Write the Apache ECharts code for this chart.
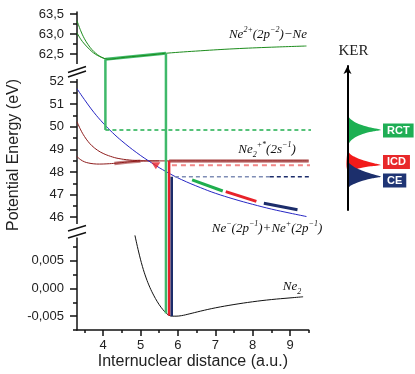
<!DOCTYPE html>
<html><head><meta charset="utf-8">
<script src="https://cdn.jsdelivr.net/npm/echarts@6/dist/echarts.min.js"></script>
<style>html,body{margin:0;padding:0;background:#fff}#c{width:415px;height:374px}</style>
</head><body><div id="c"></div>
<script>
// ---------------- data ----------------
const xTicks = [4, 5, 6, 7, 8, 9];
const xMinorTicks = [3.5, 4.5, 5.5, 6.5, 7.5, 8.5, 9.5];
const yTicksTop = [62.5, 63.0, 63.5];
const yMinorTop = [62.75, 63.25];
const yTicksMid = [46, 47, 48, 49, 50, 51, 52];
const yMinorMid = [46.5, 47.5, 48.5, 49.5, 50.5, 51.5];
const yTicksBot = [-0.005, 0, 0.005];
const yMinorBot = [-0.0075, -0.0025, 0.0025, 0.0075];

// Ne2+(2p-2)-Ne (two branches)
const dicatR_A = [3.3, 3.4, 3.5, 3.6, 3.7, 3.8, 3.9, 4.0, 4.1, 4.6, 5.2, 5.7, 6.6, 7.5, 8.5, 9.44];
const dicatE_A = [63.33, 63.08, 62.88, 62.73, 62.61, 62.52, 62.45, 62.40, 62.37, 62.42, 62.47, 62.52, 62.58, 62.63, 62.67, 62.70];
const dicatR_B = [3.3, 3.4, 3.5, 3.6, 3.7, 3.8, 3.9, 4.0, 4.1];
const dicatE_B = [63.03, 62.87, 62.75, 62.65, 62.56, 62.49, 62.44, 62.40, 62.37];
const dicatHiR = [4.06, 5.68];
const dicatHiE = [62.37, 62.52];

// Ne+(2p-1)+Ne+(2p-1) Coulomb curve
const coulR = [3.3, 3.5, 3.75, 4.0, 4.25, 4.5, 4.9, 5.3, 5.7, 6.1, 6.6, 7.0, 7.5, 8.0, 8.5, 9.0, 9.44];
const coulE = [51.68, 51.20, 50.64, 50.16, 49.74, 49.37, 48.85, 48.40, 48.00, 47.66, 47.31, 47.06, 46.80, 46.57, 46.36, 46.18, 46.03];

// Ne2+*(2s-1) curves
const innerR_A = [3.3, 3.4, 3.5, 3.6, 3.7, 3.85, 4.0, 4.2, 4.4, 4.7, 5.0, 5.5, 9.5];
const innerE_A = [50.22, 49.86, 49.57, 49.34, 49.16, 48.96, 48.82, 48.69, 48.60, 48.53, 48.50, 48.49, 48.49];
const innerR_B = [3.3, 3.4, 3.5, 3.6, 3.75, 3.9, 4.1, 4.35, 4.65, 5.0, 5.5];
const innerE_B = [48.68, 48.54, 48.45, 48.40, 48.36, 48.35, 48.36, 48.39, 48.44, 48.48, 48.49];
const innerHi1R = [4.3, 4.65, 5.0];
const innerHi1E = [48.38, 48.44, 48.48];
const innerHi2R = [5.765, 9.5];
const innerHi2E = [48.49, 48.49];

// Ne2 ground state
const groundR = [4.85, 4.95, 5.05, 5.15, 5.25, 5.35, 5.45, 5.55, 5.65, 5.75, 5.85, 5.95, 6.1, 6.3, 6.6, 7.0, 7.5, 8.0, 8.5, 9.0, 9.35];
const groundE = [0.0096, 0.0066, 0.0040, 0.0019, 0.0002, -0.0012, -0.0024, -0.0034, -0.0042, -0.0048, -0.0050, -0.0050, -0.0049, -0.0046, -0.0041, -0.0035, -0.0029, -0.0024, -0.0020, -0.0017, -0.0015];

// transitions
const rctR = 4.06, rctTopE = 62.37, rctE = 49.86;
const fcGreenR = 5.68, fcRedR = 5.765, fcNavyR = 5.835;
const fcGreenTopE = 62.52, icdTopE = 48.49, ceTopE = 47.79;
const fcGreenBotE = -0.0045, fcRedBotE = -0.0049, fcNavyBotE = -0.0050;
const icdE = 48.30;
const icdArrowR = 5.41, icdArrowE = 48.28;
const dashStartR = [4.06, 5.84, 5.92];
const ceSplitR = 8.46;
const kerEndR = 10.47;

// KER fragments along the Coulomb curve
const kerGreenR = [6.38, 7.2], kerGreenE = [47.65, 47.16];
const kerRedR = [7.28, 8.1], kerRedE = [47.13, 46.70];
const kerNavyR = [8.3, 9.2], kerNavyE = [46.62, 46.33];

// KER peaks (energy, intensity)
const peakRctE = [50.48, 50.35, 50.22, 50.10, 50.00, 49.93, 49.86, 49.80, 49.72, 49.62, 49.50, 49.35, 49.19];
const peakRctI = [0, 0.08, 0.2, 0.38, 0.6, 0.8, 1.0, 0.78, 0.55, 0.36, 0.2, 0.08, 0];
const peakIcdE = [48.92, 48.80, 48.68, 48.56, 48.46, 48.38, 48.31, 48.25, 48.18, 48.09];
const peakIcdI = [0, 0.08, 0.2, 0.38, 0.6, 0.82, 1.0, 0.7, 0.4, 0];
const peakCeE = [48.46, 48.35, 48.22, 48.10, 47.98, 47.88, 47.79, 47.72, 47.62, 47.50, 47.40, 47.29];
const peakCeI = [0, 0.08, 0.2, 0.38, 0.6, 0.82, 1.0, 0.75, 0.48, 0.25, 0.1, 0];

// ---------------- layout ----------------
const X_MIN = 3.3, X_MAX = 9.5;
const Y1_MIN = 62.1, Y1_MAX = 63.55;
const Y2_MIN = 45.39, Y2_MAX = 52.51;
const Y3_MIN = -0.0075, Y3_MAX = 0.01039;
const G_LEFT = 77, G_WIDTH = 231.7;
const g1 = {top: 12, height: 58}, g2 = {top: 70, height: 161}, g3 = {top: 231, height: 99};
const kg = {left: 347.5, top: 66, width: 40, height: 144};
const s2 = g2.height / (Y2_MAX - Y2_MIN);
const K_MAX = Y2_MAX + (g2.top - kg.top) / s2;
const K_MIN = Y2_MIN + ((g2.top + g2.height) - (kg.top + kg.height)) / s2;

const AX = '#111';
const sans = 'Liberation Sans, Arial, sans-serif';
const serif = 'Liberation Serif, Times New Roman, serif';

function grid(g) {
  return Object.assign({left: G_LEFT, width: G_WIDTH, outerBoundsMode: 'none', containLabel: false}, g);
}
function yMajor(gi, min, max, ticks, fmt) {
  return {type: 'value', gridIndex: gi, min, max, position: 'left',
    axisLine: {show: true, onZero: false, lineStyle: {color: AX, width: 1.5}},
    axisTick: {show: true, inside: false, length: 7, customValues: ticks, lineStyle: {color: AX, width: 1.5}},
    axisLabel: {show: true, customValues: ticks, margin: 13, formatter: fmt, fontFamily: sans, fontSize: 13, color: '#222'},
    splitLine: {show: false}, minorTick: {show: false}};
}
function yMinor(gi, min, max, ticks) {
  return {type: 'value', gridIndex: gi, min, max, position: 'left', offset: 0,
    axisLine: {show: false, onZero: false},
    axisTick: {show: true, inside: false, length: 4, customValues: ticks, lineStyle: {color: AX, width: 1.5}},
    axisLabel: {show: false}, splitLine: {show: false}};
}
const hiddenX = gi => ({type: 'value', gridIndex: gi, min: X_MIN, max: X_MAX, show: false, splitLine: {show: false}});

function line(xi, yi, xs, ys, color, width, extra) {
  return Object.assign({type: 'line', xAxisIndex: xi, yAxisIndex: yi,
    data: xs.map((x, i) => [x, ys[i]]), symbol: 'none', showSymbol: false,
    lineStyle: {color, width}, clip: false, silent: true, animation: false, z: 3}, extra || {});
}
const G1 = [0, 0], G2 = [1, 2], G3 = [2, 4];
const L = (g, xs, ys, c, w, e) => line(g[0], g[1], xs, ys, c, w, e);

function peak(Is, Es, color, z) {
  const data = Is.map((v, i) => [v, Es[i]]);
  return {type: 'custom', xAxisIndex: 4, yAxisIndex: 6, data, z, silent: true, animation: false, clip: false,
    renderItem(params, api) {
      if (params.dataIndex !== 0) return null;
      return {type: 'polygon', shape: {points: data.map(d => api.coord(d)), smooth: 0.25}, style: {fill: color}};
    }};
}

const smooth = {smooth: 0.4};
const GREEN = '#1c8c1c', LGREEN = '#3fb96a', BLUE = '#2626c4', DRED = '#8e1c1c', MAUVE = '#c58080',
      RED = '#e8222a', LRED = '#f28686', NAVY = '#1c2d6b', LNAVY = '#7f8db5', DGREEN = '#1fae4e';

const series = [
  // top segment
  L(G1, dicatHiR, dicatHiE, LGREEN, 3, {z: 2}),
  L(G1, dicatR_A, dicatE_A, GREEN, 1, smooth),
  L(G1, dicatR_B, dicatE_B, GREEN, 1, smooth),
  L(G1, [rctR, rctR], [rctTopE, Y1_MIN], LGREEN, 2.5),
  L(G1, [fcGreenR, fcGreenR], [fcGreenTopE, Y1_MIN], LGREEN, 2.5),
  // middle segment
  L(G2, innerHi1R, innerHi1E, MAUVE, 3.5, {z: 2}),
  L(G2, innerHi2R, innerHi2E, MAUVE, 3.5, {z: 2}),
  L(G2, innerR_A, innerE_A, DRED, 1, smooth),
  L(G2, innerR_B, innerE_B, DRED, 1, smooth),
  L(G2, coulR, coulE, BLUE, 1, smooth),
  L(G2, [dashStartR[0], kerEndR], [rctE, rctE], DGREEN, 1.5, {lineStyle: {color: DGREEN, width: 1.5, type: [4, 3]}}),
  L(G2, [dashStartR[1], kerEndR], [icdE, icdE], LRED, 2, {lineStyle: {color: LRED, width: 2, type: [5, 4]}}),
  L(G2, [dashStartR[2], ceSplitR], [ceTopE, ceTopE], LNAVY, 1.5, {lineStyle: {color: LNAVY, width: 1.5, type: [4, 3]}}),
  L(G2, [ceSplitR, kerEndR], [ceTopE, ceTopE], NAVY, 1.5, {lineStyle: {color: NAVY, width: 1.5, type: [4, 3]}}),
  L(G2, kerGreenR, kerGreenE, DGREEN, 3),
  L(G2, kerRedR, kerRedE, RED, 3),
  L(G2, kerNavyR, kerNavyE, NAVY, 3),
  L(G2, [rctR, rctR], [Y2_MAX, rctE], LGREEN, 2.5),
  L(G2, [fcGreenR, fcGreenR], [Y2_MAX, Y2_MIN], LGREEN, 2.5),
  L(G2, [fcRedR, fcRedR], [icdTopE, Y2_MIN], RED, 2.5),
  L(G2, [fcNavyR, fcNavyR], [ceTopE, Y2_MIN], NAVY, 2.5),
  {type: 'scatter', xAxisIndex: 1, yAxisIndex: 2, data: [[icdArrowR, icdArrowE]], symbol: 'triangle',
   symbolSize: [9, 7], symbolRotate: 180, itemStyle: {color: RED}, silent: true, animation: false, z: 5},
  // bottom segment
  L(G3, groundR, groundE, '#111', 1, smooth),
  L(G3, [fcGreenR, fcGreenR], [Y3_MAX, fcGreenBotE], LGREEN, 2.5),
  L(G3, [fcRedR, fcRedR], [Y3_MAX, fcRedBotE], RED, 2.5),
  L(G3, [fcNavyR, fcNavyR], [Y3_MAX, fcNavyBotE], NAVY, 2.5),
  // KER peaks
  peak(peakRctI, peakRctE, '#1db053', 3),
  peak(peakIcdI, peakIcdE, '#f21a1a', 3),
  peak(peakCeI, peakCeE, '#1c2f6c', 4)
];

// rich text helpers for state labels
const rich = {
  n: {fontFamily: serif, fontStyle: 'italic', fontSize: 13, lineHeight: 18, verticalAlign: 'middle', fill: '#111', color: '#111'},
  p: {fontFamily: serif, fontStyle: 'italic', fontSize: 8, lineHeight: 12, verticalAlign: 'top', fill: '#111', color: '#111'},
  b: {fontFamily: serif, fontStyle: 'italic', fontSize: 8, lineHeight: 10, verticalAlign: 'bottom', fill: '#111', color: '#111'}
};
function rtext(x, y, text) {
  return {type: 'text', x, y, z: 100, silent: true,
    style: {text, rich, align: 'center', textAlign: 'center', verticalAlign: 'middle', textVerticalAlign: 'middle'}};
}
function box(x, y, text, bg) {
  return {type: 'text', x, y, z: 100, silent: true,
    style: {text, fill: '#fff', fontFamily: sans, fontWeight: 'bold', fontSize: 11, backgroundColor: bg,
      padding: [2, 4, 1, 4], align: 'left', textAlign: 'left', verticalAlign: 'middle', textVerticalAlign: 'middle'}};
}
const slash = (x1, y1, x2, y2) => ({type: 'line', z: 101, silent: true, shape: {x1, y1, x2, y2}, style: {stroke: AX, lineWidth: 1.4}});
const blank = (y, h) => ({type: 'rect', z: 100, silent: true, shape: {x: 73, y, width: 8, height: h}, style: {fill: '#fff'}});

const graphic = [
  {type: 'text', x: 14, y: 155, rotation: Math.PI / 2, z: 100, silent: true,
   style: {text: 'Potential Energy (eV)', fill: '#222', fontFamily: sans, fontSize: 16,
     align: 'center', textAlign: 'center', verticalAlign: 'middle', textVerticalAlign: 'middle'}},
  blank(64, 15), slash(68, 72.5, 86, 66.5), slash(68, 77, 86, 71),
  blank(224, 13.5), slash(68, 231, 86, 225.5), slash(68, 238, 86, 232.5),
  rtext(268, 35, '{n|Ne}{p|2+}{n|(2p}{p|−2}{n|)−Ne}'),
  rtext(267, 150, '{n|Ne}{b|2}{p|+*}{n|(2s}{p|−1}{n|)}'),
  rtext(267, 229, '{n|Ne}{p|−}{n|(2p}{p|−1}{n|)+Ne}{p|+}{n|(2p}{p|−1}{n|)}'),
  rtext(292, 287, '{n|Ne}{b|2}'),
  box(383, 130.5, 'RCT', '#1fae55'),
  box(383, 162, 'ICD', '#e8282a'),
  box(383, 180.5, 'CE', '#1f3575')
];

const option = {
  animation: false,
  backgroundColor: '#fff',
  grid: [grid(g1), grid(g2), grid(g3),
    {left: kg.left, top: kg.top, width: kg.width, height: kg.height, outerBoundsMode: 'none', containLabel: false}],
  xAxis: [
    hiddenX(0), hiddenX(1),
    {type: 'value', gridIndex: 2, min: X_MIN, max: X_MAX, position: 'bottom',
     axisLine: {show: true, onZero: false, lineStyle: {color: AX, width: 1.5}},
     axisTick: {show: true, inside: false, length: 6, customValues: xTicks, lineStyle: {color: AX, width: 1.5}},
     axisLabel: {show: true, customValues: xTicks, margin: 9, fontFamily: sans, fontSize: 13, color: '#222'},
     splitLine: {show: false},
     name: 'Internuclear distance (a.u.)', nameLocation: 'middle', nameGap: 24,
     nameTextStyle: {fontFamily: sans, fontSize: 16, color: '#222'}},
    {type: 'value', gridIndex: 2, min: X_MIN, max: X_MAX, position: 'bottom', offset: 0,
     axisLine: {show: false, onZero: false},
     axisTick: {show: true, inside: false, length: 3, customValues: xMinorTicks, lineStyle: {color: AX, width: 1.5}},
     axisLabel: {show: false}, splitLine: {show: false}},
    {type: 'value', gridIndex: 3, min: 0, max: 1.2, show: false, splitLine: {show: false}}
  ],
  yAxis: [
    yMajor(0, Y1_MIN, Y1_MAX, yTicksTop, v => v.toFixed(1).replace('.', ',')),
    yMinor(0, Y1_MIN, Y1_MAX, yMinorTop),
    yMajor(1, Y2_MIN, Y2_MAX, yTicksMid, v => String(Math.round(v))),
    yMinor(1, Y2_MIN, Y2_MAX, yMinorMid),
    yMajor(2, Y3_MIN, Y3_MAX, yTicksBot, v => v.toFixed(3).replace('.', ',')),
    yMinor(2, Y3_MIN, Y3_MAX, yMinorBot),
    {type: 'value', gridIndex: 3, min: K_MIN, max: K_MAX, position: 'left', z: 10,
     axisLine: {show: true, onZero: false, symbol: ['none', 'arrow'], symbolSize: [6, 8], lineStyle: {color: '#000', width: 2}},
     axisTick: {show: false}, axisLabel: {show: false}, splitLine: {show: false},
     name: 'KER', nameLocation: 'end', nameGap: 7,
     nameTextStyle: {fontFamily: serif, fontSize: 15, color: '#222', padding: [0, 0, 0, 12]}}
  ],
  series,
  graphic
};
const chart = echarts.init(document.getElementById('c'));
chart.setOption(option);
</script></body></html>
